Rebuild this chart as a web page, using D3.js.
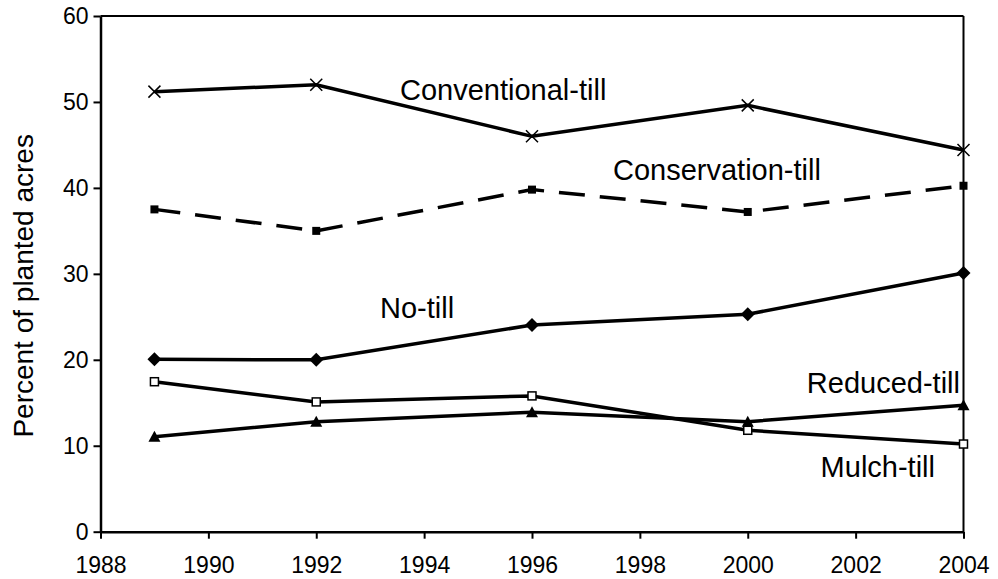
<!DOCTYPE html>
<html><head><meta charset="utf-8">
<script src="https://cdn.jsdelivr.net/npm/d3@7"></script>
<style>
body{margin:0;background:#fff;}
text{font-family:Arial,"Liberation Sans",sans-serif;fill:#000;}
</style></head>
<body><svg id="c" width="998" height="579"></svg>
<script>
const years = [1989, 1992, 1996, 2000, 2004];
const conventionalTill = [51.2, 52.0, 46.0, 49.6, 44.4];
const conservationTill = [37.5, 35.0, 39.8, 37.2, 40.25];
const noTill = [20.05, 20.0, 24.05, 25.3, 30.1];
const mulchTill = [17.45, 15.1, 15.8, 11.8, 10.2];
const reducedTill = [11.05, 12.8, 13.9, 12.8, 14.7];
const xTicks = [1988, 1990, 1992, 1994, 1996, 1998, 2000, 2002, 2004];
const yTicks = [0, 10, 20, 30, 40, 50, 60];
const seriesNames = ["Conventional-till", "Conservation-till", "No-till", "Mulch-till", "Reduced-till"];

const svg = d3.select("#c");
const L = 100.5, R = 963.5, T = 16, B = 531.7;
const x = d3.scaleLinear().domain([1988, 2004]).range([L, R]);
const y = d3.scaleLinear().domain([0, 60]).range([B, T]);

// frame (top and right)
svg.append("line").attr("x1", L).attr("x2", R).attr("y1", T).attr("y2", T).attr("stroke", "#000").attr("stroke-width", 2);
svg.append("line").attr("x1", R).attr("x2", R).attr("y1", T).attr("y2", B).attr("stroke", "#000").attr("stroke-width", 2);

const xAxis = svg.append("g").attr("transform", `translate(0,${B})`)
  .call(d3.axisBottom(x).tickValues(xTicks).tickFormat(d3.format("d")).tickSize(7).tickSizeOuter(0));
const yAxis = svg.append("g").attr("transform", `translate(${L},0)`)
  .call(d3.axisLeft(y).tickValues(yTicks).tickSize(7).tickSizeOuter(0));
[xAxis, yAxis].forEach(g => {
  g.select(".domain").attr("stroke", "#000").attr("stroke-width", 2.5);
  g.selectAll(".tick line").attr("stroke", "#000").attr("stroke-width", 2);
  g.selectAll(".tick text").attr("font-size", 23).attr("font-family", "Arial, 'Liberation Sans', sans-serif").attr("fill", "#000");
});
xAxis.selectAll(".tick text").attr("dy", "0.71em").attr("y", 25);
yAxis.selectAll(".tick text").attr("x", -12);

svg.append("text").attr("transform", `translate(33,${(T + B) / 2 + 12}) rotate(-90)`)
  .attr("text-anchor", "middle").attr("font-size", 28).text("Percent of planted acres");

const data = [conventionalTill, conservationTill, noTill, mulchTill, reducedTill];
const line = d3.line().x((d, i) => x(years[i])).y(d => y(d));
data.forEach((vals, k) => {
  svg.append("path").datum(vals).attr("d", line).attr("fill", "none")
    .attr("stroke", "#000").attr("stroke-width", 3.5)
    .attr("stroke-dasharray", k === 1 ? "26,15" : null);
});

// markers
const g = svg.append("g");
conventionalTill.forEach((v, i) => {
  const cx = x(years[i]), cy = y(v), s = 6;
  g.append("path").attr("d", `M${cx - s},${cy - s}L${cx + s},${cy + s}M${cx - s},${cy + s}L${cx + s},${cy - s}`)
    .attr("stroke", "#000").attr("stroke-width", 1.5).attr("fill", "none");
});
conservationTill.forEach((v, i) => {
  g.append("rect").attr("x", x(years[i]) - 4).attr("y", y(v) - 4).attr("width", 8).attr("height", 8).attr("fill", "#000");
});
noTill.forEach((v, i) => {
  g.append("path").attr("transform", `translate(${x(years[i])},${y(v)})`)
    .attr("d", "M0,-7L7,0L0,7L-7,0Z").attr("fill", "#000");
});
mulchTill.forEach((v, i) => {
  g.append("rect").attr("x", x(years[i]) - 4).attr("y", y(v) - 4).attr("width", 8).attr("height", 8)
    .attr("fill", "#fff").attr("stroke", "#000").attr("stroke-width", 1.5);
});
reducedTill.forEach((v, i) => {
  g.append("path").attr("transform", `translate(${x(years[i])},${y(v)})`)
    .attr("d", "M0,-6L6,5L-6,5Z").attr("fill", "#000");
});

// annotations
const ann = [
  {t: seriesNames[0], x: 400, y: 100, a: "start"},
  {t: seriesNames[1], x: 613, y: 180, a: "start"},
  {t: seriesNames[2], x: 380, y: 318, a: "start"},
  {t: seriesNames[4], x: 960, y: 393, a: "end"},
  {t: seriesNames[3], x: 935, y: 477, a: "end"}
];
ann.forEach(d => svg.append("text").attr("x", d.x).attr("y", d.y).attr("text-anchor", d.a)
  .attr("font-size", 29).text(d.t));
</script>
</body></html>
